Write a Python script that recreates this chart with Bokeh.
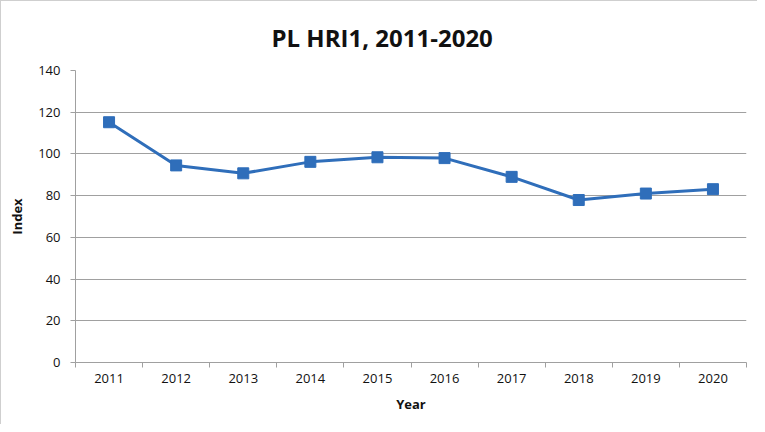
from bokeh.plotting import figure
from bokeh.models import FixedTicker, Range1d
from bokeh.embed import file_html
from bokeh.resources import INLINE

years = [2011, 2012, 2013, 2014, 2015, 2016, 2017, 2018, 2019, 2020]
index_values = [115.2, 94.5, 90.7, 96.2, 98.4, 98.0, 89.0, 77.9, 81.0, 83.1]
y_ticks = [0, 20, 40, 60, 80, 100, 120, 140]
title_text = "PL HRI1, 2011-2020"

FONT = "Open Sans"
LINE_COLOR = "#2f6eba"
GRID = "#a0a0a0"

p = figure(width=757, height=424, output_backend="svg", toolbar_location=None,
           x_range=Range1d(years[0] - 0.5, years[-1] + 0.5),
           y_range=Range1d(0, 140),
           min_border_left=74, min_border_right=12, min_border_top=69, min_border_bottom=63,
           styles={"border-left": "1px solid #cfcfcf", "border-top": "1px solid #cfcfcf"})
p.outline_line_color = None

p.title.text = title_text
p.title.align = "left"
p.title.offset = 196
p.title.text_font = FONT
p.title.text_font_size = "24px"
p.title.text_font_style = "bold"
p.title.text_color = "#111111"
p.title.text_line_height = 0.7
p.title.standoff = 33

p.line(years, index_values, line_color=LINE_COLOR, line_width=3)
p.scatter(years, index_values, marker="square", size=11, fill_color=LINE_COLOR, line_color=LINE_COLOR)

# x axis
p.xaxis.ticker = FixedTicker(ticks=years, minor_ticks=[y - 0.5 for y in years] + [years[-1] + 0.5])
p.xaxis.major_tick_line_color = None
p.xaxis.major_tick_out = 5
p.xaxis.minor_tick_line_color = GRID
p.xaxis.minor_tick_out = 5
p.xaxis.minor_tick_in = 0
p.xaxis.axis_line_color = GRID
p.xaxis.axis_label = "Year"
p.xaxis.major_label_standoff = 6

# y axis
p.yaxis.ticker = FixedTicker(ticks=y_ticks)
p.yaxis.major_tick_line_color = GRID
p.yaxis.major_tick_out = 5
p.yaxis.major_tick_in = 0
p.yaxis.minor_tick_line_color = None
p.yaxis.axis_line_color = GRID
p.yaxis.axis_label = "Index"
p.yaxis.major_label_standoff = 10

for ax in (p.xaxis, p.yaxis):
    ax.major_label_text_font = FONT
    ax.major_label_text_font_size = "13px"
    ax.major_label_text_color = "#111111"
    ax.axis_label_text_font = FONT
    ax.axis_label_text_font_size = "13px"
    ax.axis_label_text_font_style = "bold"
    ax.axis_label_text_color = "#111111"
p.xaxis.axis_label_standoff = 9
p.yaxis.axis_label_standoff = 9

p.xgrid.grid_line_color = None
p.ygrid.grid_line_color = GRID
p.ygrid.grid_line_width = 1

open("out.html", "w").write(file_html(p, INLINE))
